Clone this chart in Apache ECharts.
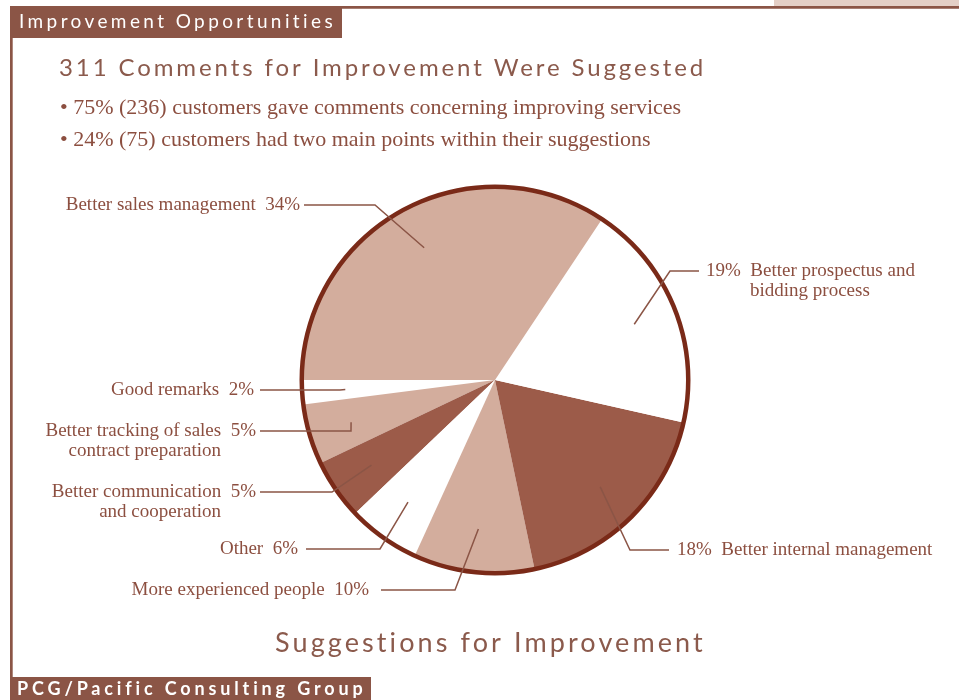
<!DOCTYPE html>
<html>
<head>
<meta charset="utf-8">
<script src="https://cdn.jsdelivr.net/npm/echarts@6/dist/echarts.min.js"></script>
<style>
html,body{margin:0;padding:0;background:#ffffff;}
#chart{width:959px;height:700px;}
</style>
</head>
<body>
<div id="chart"></div>
<script>
// ---------- data ----------
const headerText = 'Improvement Opportunities';
const titleText = '311 Comments for Improvement Were Suggested';
const bulletLines = [
  '\u2022 75% (236) customers gave comments concerning improving services',
  '\u2022 24% (75) customers had two main points within their suggestions'
];
const chartTitle = 'Suggestions for Improvement';
const footerText = 'PCG/Pacific Consulting Group';

// slices in drawing order (counter-clockwise from 9 o'clock)
const categories = [
  'Good remarks',
  'Better tracking of sales\ncontract preparation',
  'Better communication\nand cooperation',
  'Other',
  'More experienced people',
  'Better internal management',
  'Better prospectus and\nbidding process',
  'Better sales management'
];
const shares = [2, 5, 5, 6, 10, 18, 19, 34];

// ---------- styles / layout ----------
const LIGHT = '#D3AD9D', DARK = '#9C5B49', WHITE = '#FFFFFF';
const sliceColors = [WHITE, LIGHT, DARK, WHITE, LIGHT, DARK, WHITE, LIGHT];
const frameColor = '#8B5546';
const textColor = '#8C4F40';
const titleColor = '#8B5A4C';
const rimColor = '#7A2A18';
// label anchor: [x, y, side, gap to line, horizontal line length]
const labelSpots = [
  [260, 390, 'left', 6, 80],
  [260, 431, 'left', 4, 91],
  [260, 492, 'left', 4, 72],
  [306, 549, 'left', 8, 74],
  [381, 590, 'left', 12, 74],
  [669, 550, 'right', 8, 39],
  [699, 271, 'right', 7, 29],
  [304, 205, 'left', 4, 71]
];
const CENTER = [495, 380];

// letter spacing (px) for the spaced sans-serif headings, keyed by font size
const SPACING = {19: 3.4, 24: 2.9, 27: 3.1, 18: 3.85};
(function () {
  const P = CanvasRenderingContext2D.prototype;
  const orig = P.fillText;
  P.fillText = function (t, x, y, w) {
    if ('letterSpacing' in this) {
      const f = this.font || '';
      const m = /([\d.]+)px\s+"?Lato/.exec(f);
      const want = m ? ((SPACING[Math.round(parseFloat(m[1]))] || 0) + 'px') : '0px';
      if (this.letterSpacing !== want) {
        this.letterSpacing = want;
        this.font = f;
      }
    }
    return (w === undefined) ? orig.call(this, t, x, y) : orig.call(this, t, x, y, w);
  };
})();

function labelText(i) {
  const lines = categories[i].split('\n');
  const pct = shares[i] + '%';
  const side = labelSpots[i][2];
  if (side === 'left') {
    if (lines.length === 1) return '{nl|' + lines[0] + '}{pl|  ' + pct + '}';
    return '{e| }\n{nl|' + lines[0] + '}{pl|  ' + pct + '}\n{nl|' + lines[1] + '}{sl| }';
  }
  if (lines.length === 1) return '{pr|' + pct + '  }{nr|' + lines[0] + '}';
  return '{e| }\n{pr|' + pct + '  }{nr|' + lines[0] + '}\n{sr| }{nr|' + lines[1] + '}';
}

const serif = 'Liberation Serif';
const tok = (extra) => Object.assign({fontFamily: serif, fontSize: 19, color: textColor, lineHeight: 20.5}, extra);

const chart = echarts.init(document.getElementById('chart'), null, {renderer: 'canvas'});
chart.setOption({
  animation: false,
  backgroundColor: '#ffffff',
  graphic: [
    {type: 'rect', silent: true, shape: {x: 774, y: 0, width: 185, height: 6}, style: {fill: '#E4CFC6'}},
    {type: 'rect', silent: true, shape: {x: 10, y: 6, width: 949, height: 2.7}, style: {fill: frameColor}},
    {type: 'rect', silent: true, shape: {x: 10, y: 6, width: 332, height: 32}, style: {fill: frameColor}},
    {type: 'rect', silent: true, shape: {x: 10, y: 38, width: 2.7, height: 640}, style: {fill: frameColor}},
    {type: 'rect', silent: true, shape: {x: 10, y: 677, width: 361, height: 23}, style: {fill: frameColor}},
    {type: 'text', silent: true, x: 19, y: 22, style: {text: headerText, fill: '#ffffff', fontFamily: 'Lato', fontSize: 19, verticalAlign: 'middle', align: 'left'}},
    {type: 'text', silent: true, x: 17, y: 689, style: {text: footerText, fill: '#ffffff', fontFamily: 'Lato', fontSize: 18, fontWeight: 'bold', verticalAlign: 'middle', align: 'left'}},
    {type: 'text', silent: true, x: 59, y: 68, style: {text: titleText, fill: titleColor, fontFamily: 'Lato', fontSize: 24, verticalAlign: 'middle', align: 'left'}},
    {type: 'text', silent: true, x: 60, y: 108, style: {text: bulletLines[0], fill: textColor, fontFamily: serif, fontSize: 22, verticalAlign: 'middle', align: 'left'}},
    {type: 'text', silent: true, x: 60, y: 140, style: {text: bulletLines[1], fill: textColor, fontFamily: serif, fontSize: 22, verticalAlign: 'middle', align: 'left'}},
    {type: 'text', silent: true, x: 275, y: 643, style: {text: chartTitle, fill: titleColor, fontFamily: 'Lato', fontSize: 27, verticalAlign: 'middle', align: 'left'}}
  ],
  series: [
    {
      type: 'pie',
      z: 2,
      center: CENTER,
      radius: 193,
      startAngle: 180,
      clockwise: false,
      silent: true,
      label: {show: false},
      labelLine: {show: false},
      emphasis: {disabled: true},
      itemStyle: {borderWidth: 0},
      data: shares.map((v, i) => ({name: categories[i], value: v, itemStyle: {color: sliceColors[i]}}))
    },
    {
      type: 'pie',
      z: 3,
      center: CENTER,
      radius: [191, 195.5],
      silent: true,
      label: {show: false},
      labelLine: {show: false},
      emphasis: {disabled: true},
      itemStyle: {borderWidth: 0},
      data: [{name: 'rim', value: 1, itemStyle: {color: rimColor}}]
    },
    {
      type: 'pie',
      z: 5,
      center: CENTER,
      radius: 150,
      startAngle: 180,
      clockwise: false,
      silent: true,
      avoidLabelOverlap: false,
      emphasis: {disabled: true},
      itemStyle: {color: 'rgba(0,0,0,0)', borderWidth: 0},
      label: {
        show: true,
        position: 'outside',
        fontFamily: serif,
        fontSize: 19,
        color: textColor,
        lineHeight: 20.5,
        rich: {
          nl: tok({align: 'right'}),
          pl: tok({align: 'right'}),
          sl: tok({align: 'right', width: 35}),
          nr: tok({align: 'left'}),
          pr: tok({align: 'left'}),
          sr: tok({align: 'left', width: 44}),
          e: tok({})
        }
      },
      labelLine: {show: true, length: 20, length2: 20, minTurnAngle: 60, lineStyle: {color: frameColor, width: 1.5}},
      labelLayout: function (p) {
        const s = labelSpots[p.dataIndex];
        return {x: s[0], y: s[1], align: s[2] === 'left' ? 'right' : 'left', verticalAlign: 'middle'};
      },
      data: shares.map((v, i) => ({
        name: categories[i],
        value: v,
        label: {
          formatter: labelText(i),
          padding: labelSpots[i][2] === 'left' ? [0, labelSpots[i][3], 0, 0] : [0, 0, 0, labelSpots[i][3]]
        },
        labelLine: {length2: labelSpots[i][4]}
      }))
    }
  ]
});
</script>
</body>
</html>
